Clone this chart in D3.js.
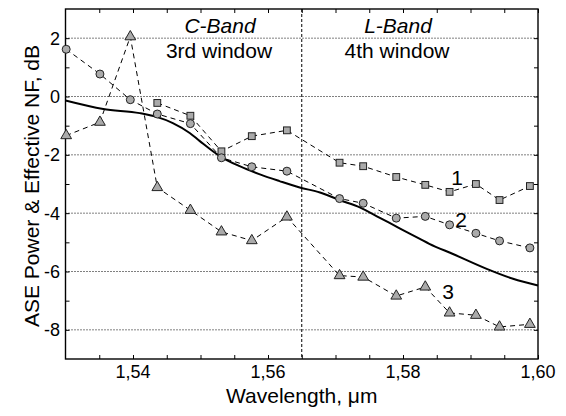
<!DOCTYPE html>
<html>
<head>
<meta charset="utf-8">
<script src="https://cdn.jsdelivr.net/npm/d3@7"></script>
<style>
  html, body { margin: 0; padding: 0; background: #fff; }
  svg { display: block; }
  text { font-family: "Liberation Sans", Arial, sans-serif; fill: #000; }
</style>
</head>
<body>
<svg id="chart" width="566" height="416"></svg>
<script>
// ---- data ----
const wavelengths = [1.5301, 1.5351, 1.5396, 1.5436, 1.5485, 1.5531, 1.5576, 1.5628,
                     1.5706, 1.5741, 1.5790, 1.5833, 1.5869, 1.5908, 1.5943, 1.5988];
const series1 = [null, null, null, -0.22, -0.66, -1.88, -1.36, -1.16,
                 -2.27, -2.39, -2.76, -3.03, -3.27, -3.00, -3.55, -3.07];
const series2 = [1.62, 0.77, -0.11, -0.60, -0.93, -2.10, -2.41, -2.56,
                 -3.50, -3.66, -4.17, -4.11, -4.40, -4.69, -4.95, -5.19];
const series3 = [-1.34, -0.88, 2.05, -3.12, -3.90, -4.64, -4.94, -4.13,
                 -6.14, -6.19, -6.84, -6.53, -7.42, -7.50, -7.90, -7.81];
const curveX = [1.5300, 1.5356, 1.5410, 1.5435, 1.5459, 1.5484, 1.5499, 1.5529, 1.5558, 1.5588,
                1.5617, 1.5647, 1.5677, 1.5706, 1.5736, 1.5765, 1.5795, 1.5825, 1.5839, 1.5874,
                1.5924, 1.5963, 1.6000];
const curveY = [-0.14, -0.43, -0.57, -0.70, -0.91, -1.25, -1.53, -2.05, -2.39, -2.67,
                -2.90, -3.12, -3.29, -3.55, -3.80, -4.15, -4.52, -4.88, -5.05, -5.40,
                -5.91, -6.25, -6.48];
const xTicks = [1.54, 1.56, 1.58, 1.60];
const xTickLabels = ["1,54", "1,56", "1,58", "1,60"];
const yTicks = [2, 0, -2, -4, -6, -8];
const yTickLabels = ["2", "0", "-2", "-4", "-6", "-8"];
const bandBoundary = 1.565;

// ---- layout ----
const svg = d3.select("#chart");
const L = 65.5, R = 538, T = 9, B = 359;
const x = d3.scaleLinear().domain([1.53, 1.60]).range([L, R]);
const y = d3.scaleLinear().domain([-9, 3]).range([B, T]);

// grid
svg.append("g").selectAll("line").data(yTicks).join("line")
  .attr("x1", L).attr("x2", R)
  .attr("y1", d => y(d)).attr("y2", d => y(d))
  .attr("stroke", "#000").attr("stroke-width", 1).attr("stroke-dasharray", "1,2");

// band boundary
svg.append("line")
  .attr("x1", x(bandBoundary)).attr("x2", x(bandBoundary))
  .attr("y1", T).attr("y2", B)
  .attr("stroke", "#000").attr("stroke-width", 1).attr("stroke-dasharray", "3,2");

// axes (ticks inward)
const minorX = d3.range(1.535, 1.6, 0.005).map(v => +v.toFixed(3));
const axB = d3.axisBottom(x).tickValues(minorX).tickSizeInner(-4).tickSizeOuter(0).tickFormat("");
const axT = d3.axisTop(x).tickValues(minorX).tickSizeInner(-4).tickSizeOuter(0).tickFormat("");
const minorY = d3.range(-8, 3, 1);
const axLft = d3.axisLeft(y).tickValues(minorY).tickSizeInner(-4).tickSizeOuter(0).tickFormat("");
const axRgt = d3.axisRight(y).tickValues(minorY).tickSizeInner(-4).tickSizeOuter(0).tickFormat("");
[[axB, `translate(0,${B})`], [axT, `translate(0,${T})`], [axLft, `translate(${L},0)`], [axRgt, `translate(${R},0)`]]
  .forEach(([ax, tr]) => {
    const g = svg.append("g").attr("transform", tr).call(ax);
    g.select(".domain").remove();
    g.selectAll("line").attr("stroke", "#000").attr("stroke-width", 1);
  });
svg.append("rect").attr("x", L).attr("y", T).attr("width", R - L).attr("height", B - T)
  .attr("fill", "none").attr("stroke", "#000").attr("stroke-width", 1.4);

// tick labels
svg.append("g").selectAll("text").data(xTicks).join("text")
  .attr("x", d => x(d)).attr("y", 378).attr("text-anchor", "middle")
  .attr("font-size", 18).text((d, i) => xTickLabels[i]);
svg.append("g").selectAll("text").data(yTicks).join("text")
  .attr("x", 60).attr("y", d => y(d) + 6.5).attr("text-anchor", "end")
  .attr("font-size", 18).text((d, i) => yTickLabels[i]);

// axis titles
svg.append("text").attr("x", (L + R) / 2).attr("y", 403).attr("text-anchor", "middle")
  .attr("font-size", 21).text("Wavelength, \u03bcm");
svg.append("text").attr("transform", `translate(39,${(T + B) / 2 + 2}) rotate(-90)`)
  .attr("text-anchor", "middle").attr("font-size", 21).text("ASE Power & Effective NF, dB");

// smooth solid curve
const curveData = curveX.map((v, i) => [v, curveY[i]]);
svg.append("path").datum(curveData)
  .attr("d", d3.line().x(d => x(d[0])).y(d => y(d[1])).curve(d3.curveMonotoneX))
  .attr("fill", "none").attr("stroke", "#000").attr("stroke-width", 2);

// dashed series
const lineGen = d3.line().defined(d => d[1] !== null).x(d => x(d[0])).y(d => y(d[1]));
const allSeries = [series1, series2, series3];
allSeries.forEach(s => {
  const pts = wavelengths.map((w, i) => [w, s[i]]).filter(d => d[1] !== null);
  svg.append("path").datum(pts).attr("d", lineGen)
    .attr("fill", "none").attr("stroke", "#000").attr("stroke-width", 1)
    .attr("stroke-dasharray", "5,4");
});

const fill = "#aaaaaa", stroke = "#222";
const pts1 = wavelengths.map((w, i) => [w, series1[i]]).filter(d => d[1] !== null);
svg.append("g").selectAll("rect").data(pts1).join("rect")
  .attr("x", d => x(d[0]) - 3.4).attr("y", d => y(d[1]) - 3.4)
  .attr("width", 6.8).attr("height", 6.8)
  .attr("fill", fill).attr("stroke", stroke).attr("stroke-width", 1);
const pts2 = wavelengths.map((w, i) => [w, series2[i]]);
svg.append("g").selectAll("circle").data(pts2).join("circle")
  .attr("cx", d => x(d[0])).attr("cy", d => y(d[1])).attr("r", 4)
  .attr("fill", fill).attr("stroke", stroke).attr("stroke-width", 1);
const pts3 = wavelengths.map((w, i) => [w, series3[i]]);
const tri = d3.symbol().type(d3.symbolTriangle).size(50);
svg.append("g").selectAll("path").data(pts3).join("path")
  .attr("transform", d => `translate(${x(d[0])},${y(d[1])})`)
  .attr("d", tri)
  .attr("fill", fill).attr("stroke", stroke).attr("stroke-width", 1);

// annotations
const ann = [
  {t: "C-Band", x: 220, y: 33, italic: true},
  {t: "3rd window", x: 219, y: 58},
  {t: "L-Band", x: 398, y: 33, italic: true},
  {t: "4th window", x: 397, y: 58},
  {t: "1", x: 457, y: 185},
  {t: "2", x: 461, y: 227},
  {t: "3", x: 448, y: 299}
];
svg.append("g").selectAll("text").data(ann).join("text")
  .attr("x", d => d.x).attr("y", d => d.y).attr("text-anchor", "middle")
  .attr("font-size", 21).attr("font-style", d => d.italic ? "italic" : "normal")
  .text(d => d.t);
</script>
</body>
</html>
